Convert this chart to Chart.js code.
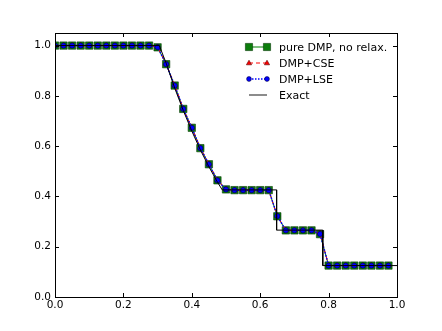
<!DOCTYPE html>
<html>
<head>
<meta charset="utf-8">
<script src="https://cdn.jsdelivr.net/npm/chart.js@4"></script>
<style>
  html, body { margin: 0; padding: 0; background: #fff; }
  #wrap { width: 442px; height: 331px; }
</style>
</head>
<body>
<div id="wrap"><canvas id="chart" width="442" height="331"></canvas></div>
<script>
// cell positions of the numerical solutions
const xs = [0, 0.025, 0.05, 0.075, 0.1, 0.125, 0.15, 0.175, 0.2, 0.225,
            0.25, 0.275, 0.3, 0.325, 0.35, 0.375, 0.4, 0.425, 0.45, 0.475,
            0.5, 0.525, 0.55, 0.575, 0.6, 0.625, 0.65, 0.675, 0.7, 0.725,
            0.75, 0.775, 0.8, 0.825, 0.85, 0.875, 0.9, 0.925, 0.95, 0.975];
const pureDmp = [1, 1, 1, 1, 1, 1, 1, 1, 1, 1,
                 1, 1, 0.993, 0.926, 0.841, 0.748, 0.673, 0.592, 0.528, 0.464,
                 0.428, 0.425, 0.425, 0.425, 0.425, 0.425, 0.321, 0.265, 0.265, 0.265,
                 0.265, 0.25, 0.125, 0.125, 0.125, 0.125, 0.125, 0.125, 0.125, 0.125];
const dmpCse = [1, 1, 1, 1, 1, 1, 1, 1, 1, 1,
                1, 1, 0.994, 0.927, 0.842, 0.749, 0.674, 0.593, 0.529, 0.465,
                0.429, 0.425, 0.425, 0.425, 0.425, 0.425, 0.323, 0.266, 0.265, 0.265,
                0.265, 0.252, 0.126, 0.125, 0.125, 0.125, 0.125, 0.125, 0.125, 0.125];
const dmpLse = [1, 1, 1, 1, 1, 1, 1, 1, 1, 1,
                1, 1, 0.994, 0.926, 0.841, 0.748, 0.673, 0.592, 0.528, 0.464,
                0.428, 0.425, 0.425, 0.425, 0.425, 0.425, 0.322, 0.265, 0.265, 0.265,
                0.265, 0.251, 0.125, 0.125, 0.125, 0.125, 0.125, 0.125, 0.125, 0.125];
// exact solution
const exactX = [0, 0.305, 0.325, 0.35, 0.375, 0.4, 0.425, 0.45, 0.475, 0.489, 0.648, 0.648, 0.783, 0.783, 1];
const exactY = [1, 1, 0.93, 0.831, 0.742, 0.66, 0.585, 0.518, 0.457, 0.426, 0.426, 0.266, 0.266, 0.125, 0.125];
const tickVals = [0, 0.2, 0.4, 0.6, 0.8, 1.0];
const seriesNames = ['pure DMP, no relax.', 'DMP+CSE', 'DMP+LSE', 'Exact'];

const pts = (xv, yv) => xv.map((x, i) => ({ x: x, y: yv[i] }));
const FONT = '"DejaVu Sans", sans-serif';

const styles = [
  { color: '#008000', dash: [], width: 1, point: 'rect', r: 5.2, fill: '#0b7d0b', edge: '#0a3a0a' },
  { color: '#ff0000', dash: [4, 3], width: 1, point: 'triangle', r: 3, fill: '#ff0000', edge: '#550000' },
  { color: '#0000ff', dash: [1.5, 1.5], width: 1.5, point: 'circle', r: 2.6, fill: '#0000ff', edge: '#000044' },
  { color: '#000000', dash: [], width: 1, point: false, r: 0 }
];

// matplotlib style frame with inward ticks on all sides
const framePlugin = {
  id: 'frame',
  afterDatasetsDraw(chart) {
    const { ctx, chartArea: a, scales } = chart;
    ctx.save();
    ctx.strokeStyle = '#000';
    ctx.lineWidth = 1;
    ctx.beginPath();
    tickVals.forEach(v => {
      const px = Math.round(scales.x.getPixelForValue(v)) + 0.5;
      ctx.moveTo(px, a.bottom); ctx.lineTo(px, a.bottom - 4);
      ctx.moveTo(px, a.top); ctx.lineTo(px, a.top + 4);
      const py = Math.round(scales.y.getPixelForValue(v)) + 0.5;
      ctx.moveTo(a.left, py); ctx.lineTo(a.left + 4, py);
      ctx.moveTo(a.right, py); ctx.lineTo(a.right - 4, py);
    });
    ctx.stroke();
    ctx.strokeRect(a.left + 0.5, a.top + 0.5, a.right - a.left, a.bottom - a.top);
    ctx.restore();
  }
};

function drawMarker(ctx, s, x, y) {
  ctx.fillStyle = s.fill;
  ctx.strokeStyle = s.edge;
  ctx.lineWidth = 0.6;
  ctx.setLineDash([]);
  ctx.beginPath();
  if (s.point === 'rect') {
    const h = 3.6;
    ctx.rect(x - h, y - h, 2 * h, 2 * h);
  } else if (s.point === 'triangle') {
    ctx.moveTo(x, y - 2.8); ctx.lineTo(x + 2.6, y + 1.8); ctx.lineTo(x - 2.6, y + 1.8); ctx.closePath();
  } else if (s.point === 'circle') {
    ctx.arc(x, y, 2.4, 0, Math.PI * 2);
  }
  ctx.fill();
  ctx.stroke();
}

const legendPlugin = {
  id: 'mplLegend',
  afterDraw(chart) {
    const ctx = chart.ctx;
    ctx.save();
    ctx.font = '11px ' + FONT;
    ctx.textBaseline = 'middle';
    seriesNames.forEach((name, i) => {
      const s = styles[i];
      const y = 47 + i * 16;
      const x0 = 249, x1 = 267;
      ctx.strokeStyle = i === 3 ? '#666' : s.color;
      ctx.lineWidth = i === 3 ? 1.5 : s.width;
      ctx.setLineDash(s.dash);
      ctx.beginPath();
      ctx.moveTo(x0, y); ctx.lineTo(x1, y);
      ctx.stroke();
      if (s.point) { drawMarker(ctx, s, x0, y); drawMarker(ctx, s, x1, y); }
      ctx.fillStyle = '#000';
      ctx.fillText(name, 279, y + 1);
    });
    ctx.restore();
  }
};

const allData = [pts(xs, pureDmp), pts(xs, dmpCse), pts(xs, dmpLse), pts(exactX, exactY)];
const orders = [3, 2, 1, 0];

const datasets = allData.map((d, i) => {
  const s = styles[i];
  return {
    label: seriesNames[i],
    data: d,
    order: orders[i],
    showLine: true,
    borderColor: s.color,
    borderWidth: s.width,
    borderDash: s.dash,
    pointStyle: s.point,
    pointRadius: s.r,
    pointBackgroundColor: s.fill,
    pointBorderColor: s.edge,
    pointBorderWidth: 0.6,
    tension: 0
  };
});

new Chart(document.getElementById('chart'), {
  type: 'scatter',
  data: { datasets: datasets },
  options: {
    responsive: false,
    animation: false,
    layout: { padding: { top: 33, right: 45, left: 0, bottom: 0 } },
    plugins: { legend: { display: false }, tooltip: { enabled: false } },
    scales: {
      x: {
        min: 0, max: 1,
        afterFit: s => { s.height = 34; },
        afterBuildTicks: s => { s.ticks = tickVals.map(v => ({ value: v })); },
        grid: { display: false, drawTicks: false },
        border: { display: false },
        ticks: { color: '#000', padding: 2, font: { family: FONT, size: 10.5 }, maxRotation: 0,
                 callback: v => Number(v).toFixed(1) }
      },
      y: {
        min: 0, max: 1.05,
        afterFit: s => { s.width = 55; },
        afterBuildTicks: s => { s.ticks = tickVals.map(v => ({ value: v })); },
        grid: { display: false, drawTicks: false },
        border: { display: false },
        ticks: { color: '#000', padding: 4, font: { family: FONT, size: 10.5 },
                 callback: v => Number(v).toFixed(1) }
      }
    }
  },
  plugins: [framePlugin, legendPlugin]
});
</script>
</body>
</html>
